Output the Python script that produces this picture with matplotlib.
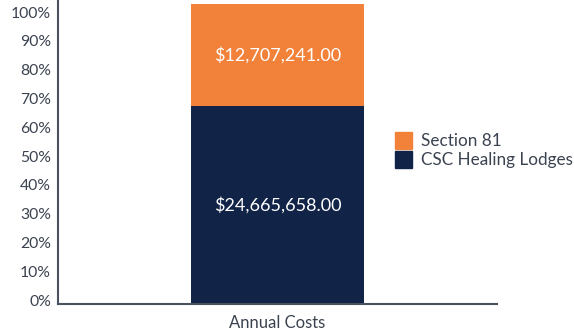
import matplotlib
matplotlib.use("Agg")
import matplotlib.pyplot as plt
import numpy as np
from matplotlib.patches import Patch

categories = ["Annual Costs"]
series_names = ["CSC Healing Lodges", "Section 81"]
csc_values = [24665658.00]
s81_values = [12707241.00]
tick_labels = ["0%", "10%", "20%", "30%", "40%", "50%", "60%", "70%", "80%", "90%", "100%"]

colors = {"CSC Healing Lodges": "#112447", "Section 81": "#F2823A"}
text_color = "#3B4350"

plt.rcParams['font.family'] = ['Lato', 'DejaVu Sans']

fig = plt.figure(figsize=(5.74, 3.35), dpi=100)
ax = fig.add_axes([58/574, 31/335, 439/574, 304/335])

total = np.array(csc_values) + np.array(s81_values)
csc_frac = np.array(csc_values) / total
s81_frac = np.array(s81_values) / total
x = np.arange(len(categories))
w = 0.392

ax.bar(x, csc_frac, width=w, color=colors["CSC Healing Lodges"], edgecolor="none")
ax.bar(x, s81_frac, width=w, bottom=csc_frac, color=colors["Section 81"], edgecolor="none")

for xi, c, s, cv, sv in zip(x, csc_frac, s81_frac, csc_values, s81_values):
    ax.text(xi, c / 2, f"${cv:,.2f}", ha="center", va="center", color="white", fontsize=13)
    ax.text(xi, c + s / 2, f"${sv:,.2f}", ha="center", va="center", color="white", fontsize=13)

ax.set_xlim(-0.5, 0.5)
ax.set_ylim(0, 304/300)
tick_pos = np.arange(len(tick_labels)) * 0.096 + 0.0133
ax.set_yticks(tick_pos)
ax.set_yticklabels(tick_labels)
ax.set_xticks(x)
ax.set_xticklabels(categories)
ax.tick_params(axis="y", length=0, labelsize=11.3, colors=text_color, pad=5)
ax.tick_params(axis="x", length=0, labelsize=12, colors=text_color, pad=8)

for side in ["top", "right"]:
    ax.spines[side].set_visible(False)
for side in ["left", "bottom"]:
    ax.spines[side].set_color("#4A5260")
    ax.spines[side].set_linewidth(1.5)

handles = [Patch(color=colors["Section 81"], label="Section 81"),
           Patch(color=colors["CSC Healing Lodges"], label="CSC Healing Lodges")]
leg = fig.legend(handles=handles, loc="center left", bbox_to_anchor=(380/574, 1 - 150/335),
                 frameon=False, fontsize=12.3, handlelength=0.95, handleheight=1.2,
                 handletextpad=0.55, labelspacing=0.1)
for t in leg.get_texts():
    t.set_color(text_color)

fig.savefig("out.png", dpi=100)
